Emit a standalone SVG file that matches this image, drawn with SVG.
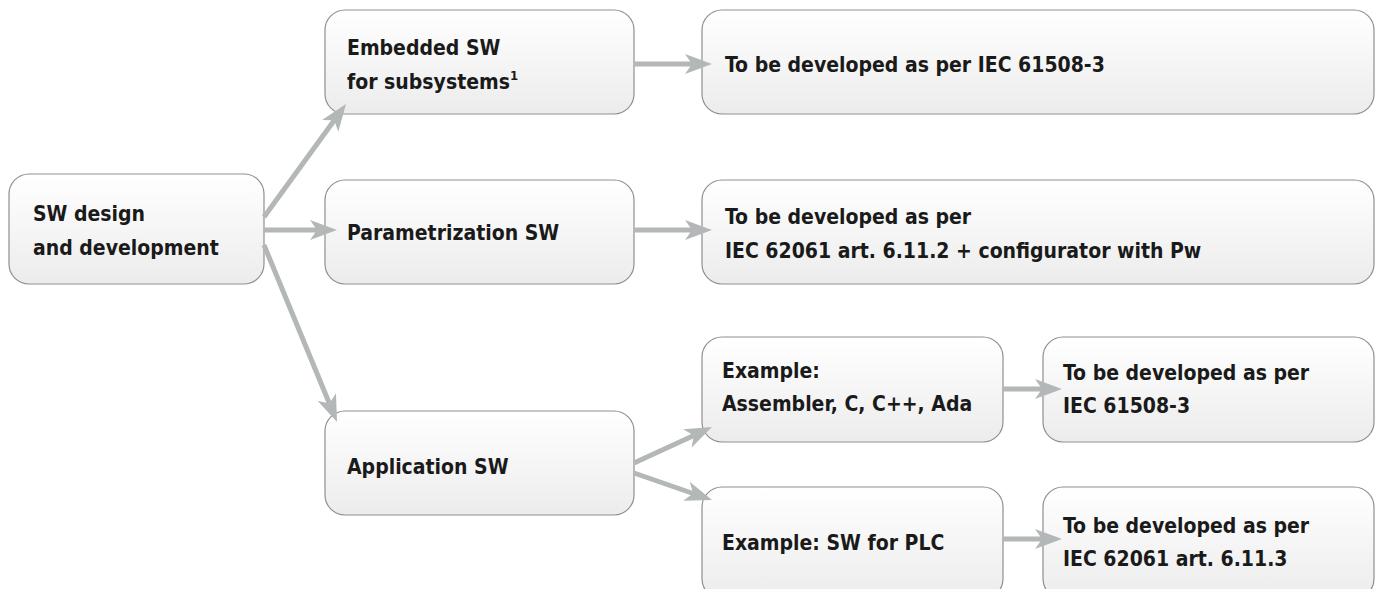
<svg xmlns="http://www.w3.org/2000/svg" width="1377" height="589" viewBox="0 0 1377 589">
<defs>
<linearGradient id="g" x1="0" y1="0" x2="0" y2="1">
<stop offset="0" stop-color="#ffffff"/>
<stop offset="1" stop-color="#ececec"/>
</linearGradient>
<marker id="ah" markerUnits="userSpaceOnUse" viewBox="-1 -11 29 22" markerWidth="29" markerHeight="22" refX="7" refY="0" orient="auto">
<path d="M0,-10 L27,0 L0,10 L7,0 Z" fill="#b4b7b7"/>
</marker>
<style>
.box{fill:url(#g);stroke:#8f8f8f;stroke-width:1.2}
.t{font-family:"Liberation Sans Narrow","DejaVu Sans Condensed","Liberation Sans",sans-serif;font-weight:bold;font-size:21px;fill:#1a1a1a}
.sup{font-size:13px}
.c{stroke:#b4b7b7;stroke-width:5;fill:none;marker-end:url(#ah)}
</style>
</defs>
<rect width="1377" height="589" fill="#ffffff"/>
<g id="n-sw"><rect class="box" x="9" y="174" width="255" height="110" rx="20"/><text class="t" x="33" y="221">SW design</text><text class="t" x="33" y="255">and development</text></g>
<g id="n-emb"><rect class="box" x="325" y="10" width="309" height="104" rx="20"/><text class="t" x="347" y="55">Embedded SW</text><text class="t" x="347" y="89">for subsystems<tspan class="sup" dy="-9">1</tspan></text></g>
<g id="n-param"><rect class="box" x="325" y="180" width="309" height="104" rx="20"/><text class="t" x="347" y="240">Parametrization SW</text></g>
<g id="n-app"><rect class="box" x="325" y="411" width="309" height="104" rx="20"/><text class="t" x="347" y="474">Application SW</text></g>
<g id="n-r1"><rect class="box" x="702" y="10" width="672" height="104" rx="20"/><text class="t" x="725" y="72">To be developed as per IEC 61508-3</text></g>
<g id="n-r2"><rect class="box" x="702" y="180" width="672" height="104" rx="20"/><text class="t" x="725" y="224">To be developed as per</text><text class="t" x="725" y="258">IEC 62061 art. 6.11.2 + configurator with Pw</text></g>
<g id="n-ex1"><rect class="box" x="702" y="337" width="301" height="105" rx="20"/><text class="t" x="722" y="378">Example:</text><text class="t" x="722" y="411">Assembler, C, C++, Ada</text></g>
<g id="n-ex2"><rect class="box" x="702" y="487" width="301" height="112" rx="20"/><text class="t" x="722" y="550">Example: SW for PLC</text></g>
<g id="n-s1"><rect class="box" x="1043" y="337" width="331" height="105" rx="20"/><text class="t" x="1063" y="380">To be developed as per</text><text class="t" x="1063" y="413">IEC 61508-3</text></g>
<g id="n-s2"><rect class="box" x="1043" y="487" width="331" height="112" rx="20"/><text class="t" x="1063" y="533">To be developed as per</text><text class="t" x="1063" y="566">IEC 62061 art. 6.11.3</text></g>
<g id="connectors">
<line class="c" x1="264" y1="217" x2="334.3" y2="120.2"/>
<line class="c" x1="264" y1="230" x2="317" y2="230"/>
<line class="c" x1="264" y1="245" x2="329.4" y2="403.5"/>
<line class="c" x1="634" y1="64" x2="692" y2="64"/>
<line class="c" x1="634" y1="230" x2="692" y2="230"/>
<line class="c" x1="634" y1="463" x2="693.8" y2="435.4"/>
<line class="c" x1="634" y1="473" x2="693.1" y2="493.5"/>
<line class="c" x1="1003" y1="389" x2="1042" y2="389"/>
<line class="c" x1="1003" y1="539" x2="1042" y2="539"/>
</g>
</svg>
